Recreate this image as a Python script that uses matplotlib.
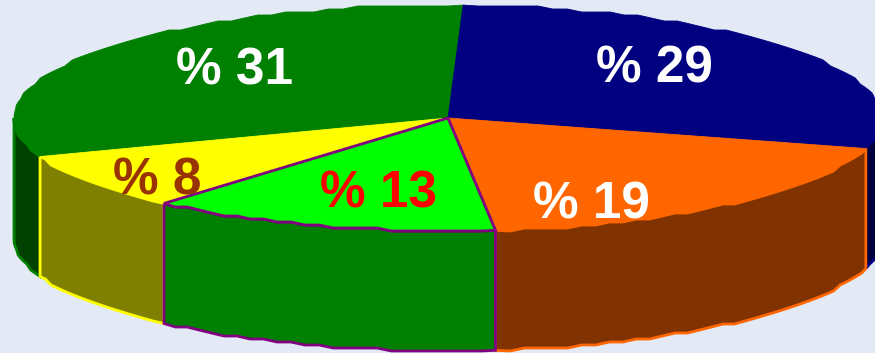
import numpy as np
import matplotlib
matplotlib.use("Agg")
import matplotlib.pyplot as plt
from matplotlib.patches import Polygon

# data (clockwise from the near-top boundary)
categories = ["navy", "orange", "lime", "yellow", "green"]
shares = [28.8, 18.9, 13.1, 8.1, 31.1]

# style
top_colors = ["#000080", "#FF6600", "#00FF00", "#FFFF00", "#008000"]
side_colors = ["#000040", "#803300", "#008000", "#808000", "#004000"]
top_edges = ["#000080", "#FF6600", "#800080", "#FFFF00", "#008000"]
side_edges = ["#000080", "#FF6600", "#800080", "#FFFF00", "#008000"]
label_colors = ["white", "white", "red", "#993300", "white"]
label_pos = [(654, 69), (591, 205), (379, 194), (157, 181), (234, 71)]
BG = "#E3EAF6"

# projection of the disc in pixel space
CX, CY, RX, RY, DEPTH = 448.0, 118.0, 434.0, 113.0, 120.0
START = -88.0
GRID = 3.0
STEP = 2.0
DRAW_ORDER = [4, 0, 1, 3, 2]


def arc(a0, a1):
    """Coarse, stair-stepped elliptical arc like the low-res original."""
    n = max(int(np.ceil((a1 - a0) / STEP)), 1)
    t = np.radians(np.linspace(a0, a1, n + 1))
    x = CX + RX * np.cos(t)
    y = CY + RY * np.sin(t)
    y[1:-1] = np.round(y[1:-1] / GRID) * GRID
    return np.column_stack([x, y])


fig = plt.figure(figsize=(8.75, 3.53), dpi=100, facecolor=BG)
ax = fig.add_axes([0, 0, 1, 1])
ax.set_xlim(0, 875)
ax.set_ylim(353, 0)
ax.axis("off")

angles = START + np.concatenate([[0], np.cumsum(shares)]) * 3.6
spans = list(zip(angles[:-1], angles[1:]))

# side walls: only the near half of the disc (0..180 degrees)
for z, i in enumerate(DRAW_ORDER):
    a0, a1 = spans[i]
    lo, hi = max(a0, 0.0), min(a1, 180.0)
    if hi <= lo:
        continue
    top = arc(lo, hi)
    bottom = top[::-1] + [0, DEPTH]
    ax.add_patch(Polygon(np.vstack([top, bottom]), closed=True,
                         facecolor=side_colors[i], edgecolor=side_edges[i],
                         linewidth=2.0, joinstyle="miter", zorder=2 + z * 0.01))

# top faces
for z, i in enumerate(DRAW_ORDER):
    a0, a1 = spans[i]
    pts = np.vstack([[[CX, CY]], arc(a0, a1)])
    ax.add_patch(Polygon(pts, closed=True, facecolor=top_colors[i],
                         edgecolor=top_edges[i], linewidth=2.0 if i == 2 else 0.6,
                         joinstyle="miter", zorder=4 + z * 0.01))

for s, (x, y), c in zip(shares, label_pos, label_colors):
    ax.text(x, y, f"% {round(s)}", color=c, fontsize=37, fontweight="bold",
            family="Liberation Sans", ha="center", va="center", zorder=6)

fig.savefig("out.png", dpi=100, facecolor=BG)
